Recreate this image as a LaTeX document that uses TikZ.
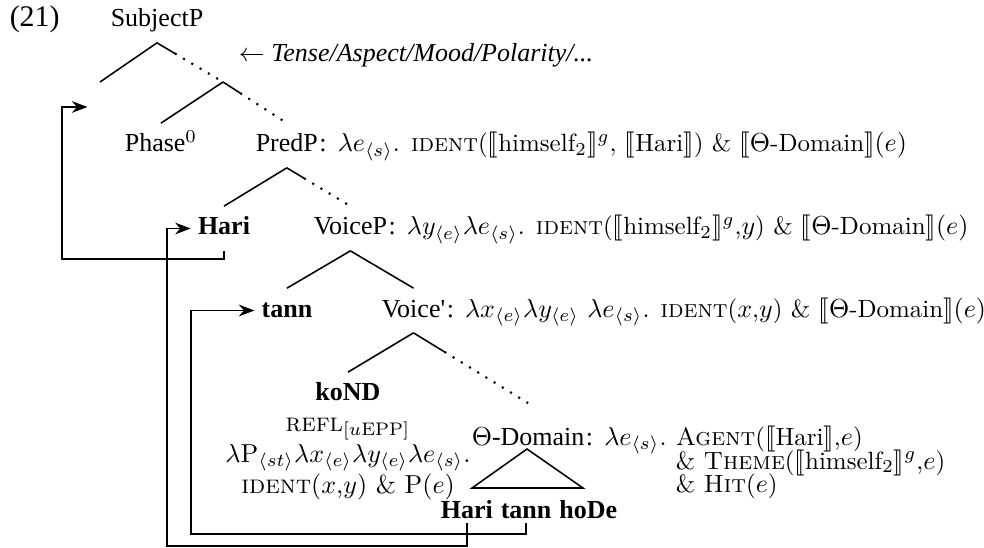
\documentclass[tikz,border=0pt]{standalone}
\usepackage{fontspec}
\usepackage{amsmath}
\usepackage{stmaryrd}
\usetikzlibrary{positioning,calc,arrows.meta}
\newfontfamily\tmsfont{Liberation Serif}
\newcommand\Den[1]{\llbracket\text{#1}\rrbracket}
\newcommand\DotEdge[2]{%
    \draw (#1) -- ($(#1)!0.27!(#2)$) coordinate(mid);
    \draw[dotedge] (mid) -- (#2);
}

\begin{document}
\begin{tikzpicture}[x=0.3846pt,y=-0.3846pt,line width=0.6pt,
    cat/.style={font=\tmsfont,inner xsep=0pt,inner ysep=3.8pt,text height=7pt,text depth=2pt},
    word/.style={cat,font=\tmsfont\bfseries},
    leaf/.style={word,inner ysep=1.5pt,text depth=0pt},
    sem/.style={font=\fontsize{9.6}{11.5}\selectfont,inner xsep=0pt,inner ysep=3.8pt,text height=7pt,text depth=2pt},
    dotedge/.style={dash pattern=on 0.8pt off 2.9pt,line width=0.8pt},
    move/.style={-{Stealth[length=6pt,width=4.5pt]},shorten >=2.5pt}]
    \useasboundingbox (0,0) rectangle (984,548);
    \node[cat,anchor=base west,font=\tmsfont\fontsize{11.5}{13}\selectfont] (exnum) at (9,27) {(21)};
    \node[cat,anchor=base] (subjp) at (157,27) {SubjectP};
    \node[cat,anchor=base west,font=\tmsfont\itshape] (tam) at (238,62) {$\leftarrow$ Tense/Aspect/Mood/Polarity/...};
    \coordinate (subjspec) at (100,82);
    \coordinate (subjgap) at (94,107);
    \coordinate (phasebar) at (223,82);
    \node[cat,anchor=base] (phase) at (161,152) {Phase$^0$};
    \node[cat,anchor=base west] (predp) at (255,152) {PredP};
    \node[sem,right=0pt of predp] (predsem) {{\tmsfont\fontsize{10}{12}\selectfont:} $\lambda e_{\langle s\rangle}$. \textsc{ident}($\Den{himself$_2$}^g$, $\Den{Hari}$) \& $\Den{$\Theta$-Domain}(e)$};
    % Spec and VoiceP
    \node[word,anchor=base] (hari) at (224,235) {Hari};
    \node[cat,anchor=base west] (voicep) at (313,235) {VoiceP};
    \node[sem,right=0pt of voicep] (voicepsem) {{\tmsfont\fontsize{10}{12}\selectfont:} $\lambda y_{\langle e\rangle}\lambda e_{\langle s\rangle}$. \textsc{ident}($\Den{himself$_2$}^g$,$y$) \& $\Den{$\Theta$-Domain}(e)$};
    \node[word,anchor=base] (tann) at (287,317) {tann};
    \node[cat,anchor=base west] (voicebar) at (381,317) {Voice\textquotesingle};
    \node[sem,right=0pt of voicebar] (voicebarsem) {{\tmsfont\fontsize{10}{12}\selectfont:} $\lambda x_{\langle e\rangle}\lambda y_{\langle e\rangle}\ \lambda e_{\langle s\rangle}$. \textsc{ident}($x$,$y$) \& $\Den{$\Theta$-Domain}(e)$};
    % reflexive head
    \node[word,anchor=base] (kond) at (348,401) {koND};
    \node[below=0pt of kond,align=center,inner sep=0pt] (reflsem) {\textsc{refl}$_{[u\mathrm{EPP}]}$\\
        $\lambda\mathrm{P}_{\langle st\rangle}\lambda x_{\langle e\rangle}\lambda y_{\langle e\rangle}\lambda e_{\langle s\rangle}$.\\
        \textsc{ident}($x$,$y$) \& P($e$)};
    \node[cat,anchor=base west,inner ysep=8.8pt] (thetadom) at (471,445) {$\Theta$-Domain};
    \node[sem,right=0pt of thetadom] (thetasem) {{\tmsfont\fontsize{10}{12}\selectfont:} $\lambda e_{\langle s\rangle}$.};
    \node[sem,inner ysep=0pt,right=3pt of thetasem] (agent) {\textsc{Agent}($\Den{Hari}$,$e$)};
    \node[sem,inner ysep=0pt,anchor=base west] (theme) at ($(agent.base west)+(0,24)$) {\& \textsc{Theme}($\Den{himself$_2$}^g$,$e$)};
    \node[sem,inner ysep=0pt,anchor=base west] (hit) at ($(agent.base west)+(0,47)$) {\& \textsc{Hit}($e$)};
    \coordinate (roof) at (527,449);
    \node[leaf,anchor=base west] (lowhari) at (440,518) {Hari};
    \node[leaf,right=2.5pt of lowhari] (lowtann) {tann};
    \node[leaf,right=2.5pt of lowtann] (lowhode) {hoDe};
    % branches
    \draw (subjp.south) -- (subjspec);
    \DotEdge{subjp.south}{phasebar}
    \draw (phasebar) -- (phase.north);
    \DotEdge{phasebar}{predp.north}
    \draw (predp.south) -- (hari.north);
    \DotEdge{predp.south}{voicep.north}
    \draw (voicep.south) -- (tann.north);
    \draw (voicep.south) -- (voicebar.north);
    \draw (voicebar.south) -- (kond.north);
    \DotEdge{voicebar.south}{thetadom.north}
    \draw (roof) -- ++(-55,39) -- ++(111,0) -- cycle;
    % movement
    \draw[move] (hari.south) |- (62,259) |- (subjgap);
    \draw[move] (lowhari.south) |- (167,546) |- (hari.west);
    \draw[move] (lowtann.south) |- (191,534) |- (tann.west);
\end{tikzpicture}
\end{document}
